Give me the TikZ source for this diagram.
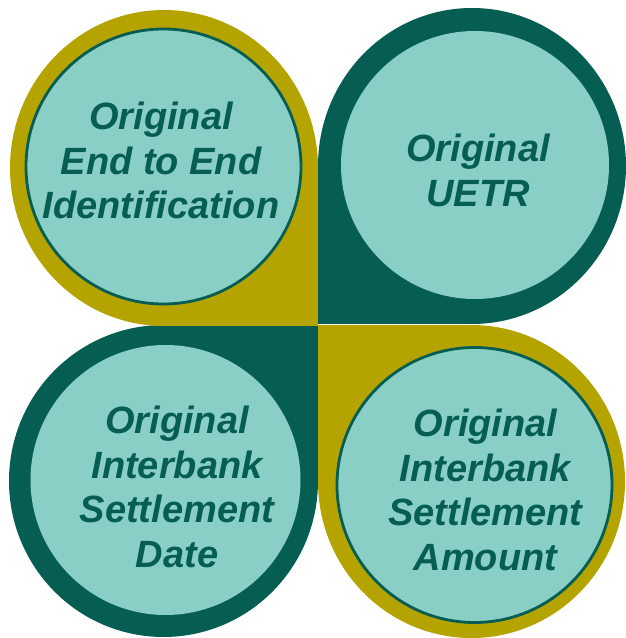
\documentclass[tikz,border=0pt]{standalone}
\usepackage{fontspec}
\setmainfont{Liberation Sans}
\definecolor{olive}{RGB}{181,163,0}
\definecolor{darkteal}{RGB}{6,94,82}
\definecolor{lightteal}{RGB}{137,207,198}
\begin{document}
\begin{tikzpicture}[x=1pt,y=1pt,
  label text/.style={text=darkteal, align=center, inner sep=0pt,
    font=\fontsize{38}{44.5}\selectfont\bfseries\itshape},
  inner disc/.style={fill=lightteal},
  ringed disc/.style={fill=lightteal, draw=darkteal, line width=2.8pt}]
\useasboundingbox (0,0) rectangle (626,638);
% outer shapes
\fill[darkteal] (163.5,313) arc[start angle=90, end angle=360, x radius=154.5, y radius=156] -- (318,313) -- cycle;
\fill[olive] (318,156.5) arc[start angle=180, end angle=450, x radius=153.5, y radius=156.5] -- (318,313) -- cycle;
\fill[olive] (318,470) arc[start angle=0, end angle=270, x radius=154, y radius=158] -- (318,312) -- cycle;
\fill[darkteal] (472,314) arc[start angle=270, end angle=540, x radius=154, y radius=158] -- (318,314) -- cycle;
% inner discs
\path[ringed disc] (163.5,471.5) circle[radius=137.5];
\path[inner disc] (475,473) circle[radius=134];
\path[inner disc] (165.5,158) circle[radius=135];
\path[ringed disc] (474.5,153) circle[radius=137.5];
% labels
\node[label text] (e2e) at (161,477.5) {Original\\End to End\\Identification};
\node[label text] (uetr) at (478,467.5) {Original\\UETR};
\node[label text] (date) at (177,151) {Original\\Interbank\\Settlement\\Date};
\node[label text] (amount) at (485.5,148) {Original\\Interbank\\Settlement\\Amount};
\end{tikzpicture}
\end{document}
